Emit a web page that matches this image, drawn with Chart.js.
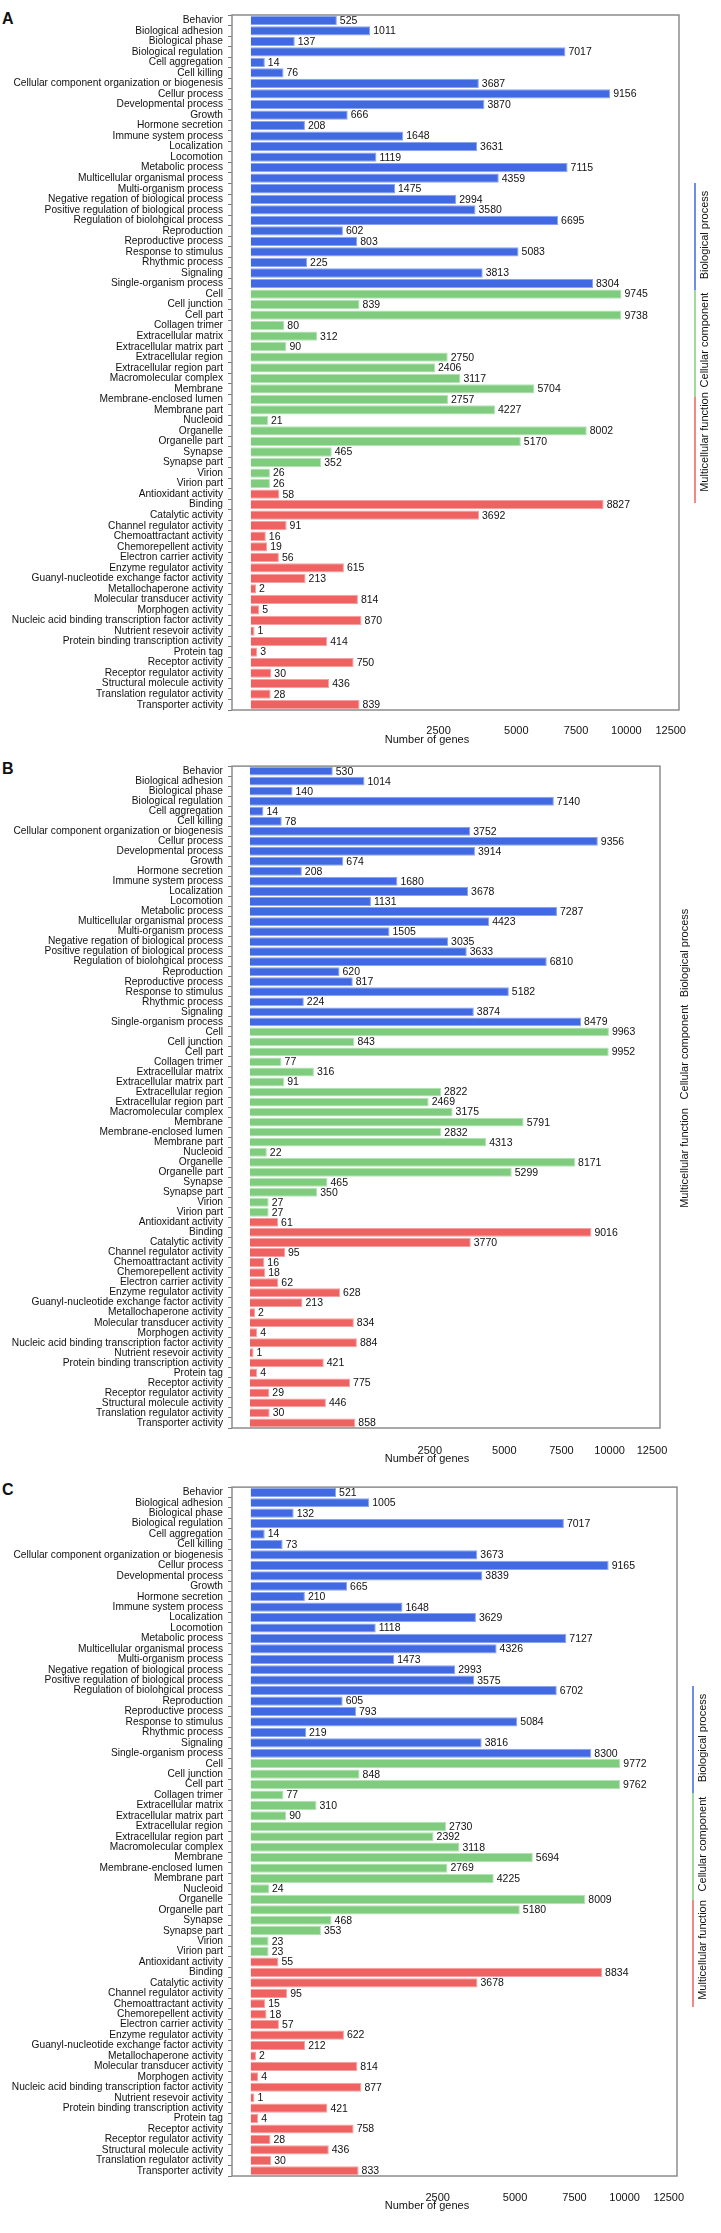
<!DOCTYPE html>
<html>
<head>
<meta charset="utf-8">
<script src="https://cdn.jsdelivr.net/npm/chart.js@4.4.0/dist/chart.umd.min.js"></script>
<style>
  body { margin: 0; background: #fff; }
  #page { position: relative; width: 721px; height: 2233px; overflow: hidden; }
  .panel { position: absolute; left: 0; }
  .letter { position: absolute; left: 2px; font: bold 16px "Liberation Sans", Arial, sans-serif; color: #111; }
</style>
</head>
<body>
<div id="page">
  <div class="letter" style="top:10px">A</div>
  <div class="letter" style="top:760px">B</div>
  <div class="letter" style="top:1481px">C</div>
  <canvas id="chartA" class="panel" style="top:0px" width="721" height="760"></canvas>
  <canvas id="chartB" class="panel" style="top:755px" width="721" height="730"></canvas>
  <canvas id="chartC" class="panel" style="top:1476px" width="721" height="757"></canvas>
</div>
<script>
const bpTerms = ['Behavior', 'Biological adhesion', 'Biological phase', 'Biological regulation', 'Cell aggregation',
  'Cell killing', 'Cellular component organization or biogenesis', 'Cellur process', 'Developmental process',
  'Growth', 'Hormone secretion', 'Immune system process', 'Localization', 'Locomotion', 'Metabolic process',
  'Multicellular organismal process', 'Multi-organism process', 'Negative regation of biological process',
  'Positive regulation of biological process', 'Regulation of biolohgical process', 'Reproduction',
  'Reproductive process', 'Response to stimulus', 'Rhythmic process', 'Signaling', 'Single-organism process']
const ccTerms = ['Cell', 'Cell junction', 'Cell part', 'Collagen trimer', 'Extracellular matrix',
  'Extracellular matrix part', 'Extracellular region', 'Extracellular region part', 'Macromolecular complex',
  'Membrane', 'Membrane-enclosed lumen', 'Membrane part', 'Nucleoid', 'Organelle', 'Organelle part',
  'Synapse', 'Synapse part', 'Virion', 'Virion part']
const mfTerms = ['Antioxidant activity', 'Binding', 'Catalytic activity', 'Channel regulator activity',
  'Chemoattractant activity', 'Chemorepellent activity', 'Electron carrier activity', 'Enzyme regulator activity',
  'Guanyl-nucleotide exchange factor activity', 'Metallochaperone activity', 'Molecular transducer activity',
  'Morphogen activity', 'Nucleic acid binding transcription factor activity', 'Nutrient resevoir activity',
  'Protein binding transcription activity', 'Protein tag', 'Receptor activity', 'Receptor regulator activity',
  'Structural molecule activity', 'Translation regulator activity', 'Transporter activity']
const groupNames = ['Biological process', 'Cellular component', 'Multicellular function']

// panel A
const aBP = [525, 1011, 137, 7017, 14, 76, 3687, 9156, 3870, 666, 208, 1648, 3631, 1119, 7115, 4359, 1475, 2994, 3580, 6695, 602, 803, 5083, 225, 3813, 8304]
const aCC = [9745, 839, 9738, 80, 312, 90, 2750, 2406, 3117, 5704, 2757, 4227, 21, 8002, 5170, 465, 352, 26, 26]
const aMF = [58, 8827, 3692, 91, 16, 19, 56, 615, 213, 2, 814, 5, 870, 1, 414, 3, 750, 30, 436, 28, 839]
// panel B
const bBP = [530, 1014, 140, 7140, 14, 78, 3752, 9356, 3914, 674, 208, 1680, 3678, 1131, 7287, 4423, 1505, 3035, 3633, 6810, 620, 817, 5182, 224, 3874, 8479]
const bCC = [9963, 843, 9952, 77, 316, 91, 2822, 2469, 3175, 5791, 2832, 4313, 22, 8171, 5299, 465, 350, 27, 27]
const bMF = [61, 9016, 3770, 95, 16, 18, 62, 628, 213, 2, 834, 4, 884, 1, 421, 4, 775, 29, 446, 30, 858]
// panel C
const cBP = [521, 1005, 132, 7017, 14, 73, 3673, 9165, 3839, 665, 210, 1648, 3629, 1118, 7127, 4326, 1473, 2993, 3575, 6702, 605, 793, 5084, 219, 3816, 8300]
const cCC = [9772, 848, 9762, 77, 310, 90, 2730, 2392, 3118, 5694, 2769, 4225, 24, 8009, 5180, 468, 353, 23, 23]
const cMF = [55, 8834, 3678, 95, 15, 18, 57, 622, 212, 2, 814, 4, 877, 1, 421, 4, 758, 28, 436, 30, 833]

const xTicks = [2500, 5000, 7500, 10000, 12500]
const xMin = -25
const xMax = 13000

const FONT = '"Liberation Sans", Arial, sans-serif'
const TEXT = '#111'
const groupColors = ['#4169e1', '#7fcc7f', '#ee6262']
const groupBorders = ['#8aa3ee', '#b3e2b3', '#f5a0a0']

// square-root axis
const sq = v => Math.sign(v) * Math.sqrt(Math.abs(v))
class SqrtScale extends Chart.LinearScale {
  getPixelForValue(value) {
    const a = sq(this.min), b = sq(this.max)
    return this.getPixelForDecimal((sq(value) - a) / (b - a))
  }
  getValueForPixel(pixel) {
    const a = sq(this.min), b = sq(this.max)
    const s = a + this.getDecimalForPixel(pixel) * (b - a)
    return Math.sign(s) * s * s
  }
}
SqrtScale.id = 'sqrt'
SqrtScale.defaults = Chart.LinearScale.defaults
Chart.register(SqrtScale)

const frame = {
  id: 'frame',
  afterDatasetsDraw(chart) {
    const { ctx, chartArea: c } = chart
    ctx.save()
    ctx.strokeStyle = '#8c8c8c'
    ctx.lineWidth = 1.5
    ctx.strokeRect(c.left, c.top, c.right - c.left, c.bottom - c.top)
    ctx.restore()
  }
}

const valueLabels = {
  id: 'valueLabels',
  afterDatasetsDraw(chart) {
    const { ctx } = chart
    const data = chart.data.datasets[0].data
    ctx.save()
    ctx.font = '10.5px ' + FONT
    ctx.fillStyle = TEXT
    ctx.textBaseline = 'middle'
    chart.getDatasetMeta(0).data.forEach((bar, i) => {
      ctx.fillText(String(data[i]), bar.x + 3, bar.y + 0.5)
    })
    ctx.restore()
  }
}

const sideLabels = {
  id: 'sideLabels',
  afterDraw(chart, args, opts) {
    const { ctx } = chart
    ctx.save()
    opts.items.forEach((it, i) => {
      if (opts.lineX) {
        ctx.strokeStyle = groupColors[i]
        ctx.lineWidth = 1.5
        ctx.beginPath()
        ctx.moveTo(opts.lineX, it[0])
        ctx.lineTo(opts.lineX, it[1])
        ctx.stroke()
      }
      ctx.save()
      ctx.translate(opts.textX, it[2])
      ctx.rotate(-Math.PI / 2)
      ctx.font = '11px ' + FONT
      ctx.fillStyle = TEXT
      ctx.textAlign = 'center'
      ctx.textBaseline = 'middle'
      ctx.fillText(groupNames[i], 0, 0)
      ctx.restore()
    })
    // axis title
    ctx.font = '11px ' + FONT
    ctx.fillStyle = TEXT
    ctx.textAlign = 'center'
    ctx.textBaseline = 'middle'
    ctx.fillText('Number of genes', 427, opts.titleY)
    ctx.restore()
  }
}

const categories = [...bpTerms, ...ccTerms, ...mfTerms]
const barColors = [...bpTerms.map(() => groupColors[0]), ...ccTerms.map(() => groupColors[1]), ...mfTerms.map(() => groupColors[2])]
const barBorders = [...bpTerms.map(() => groupBorders[0]), ...ccTerms.map(() => groupBorders[1]), ...mfTerms.map(() => groupBorders[2])]

function makeChart(id, values, g) {
  const canvas = document.getElementById(id)
  const H = canvas.height
  return new Chart(canvas.getContext('2d'), {
    type: 'bar',
    data: {
      labels: categories,
      datasets: [{
        data: values,
        backgroundColor: barColors,
        borderColor: barBorders,
        borderWidth: 1,
        borderSkipped: 'left',
        barPercentage: 0.88,
        categoryPercentage: 1,
      }],
    },
    options: {
      indexAxis: 'y',
      responsive: false,
      animation: false,
      devicePixelRatio: 1,
      layout: { padding: { top: g.top, right: 721 - g.right, bottom: 0, left: 0 } },
      scales: {
        x: {
          type: 'sqrt',
          min: xMin,
          max: xMax,
          afterBuildTicks: (s) => { s.ticks = xTicks.map(v => ({ value: v })) },
          afterFit: (s) => { s.height = H - g.bottom },
          grid: { display: false },
          border: { display: false },
          ticks: { padding: g.tickPad, color: TEXT, font: { family: FONT, size: 11 }, callback: (v) => String(v), maxRotation: 0, autoSkip: false },
        },
        y: {
          afterFit: (s) => { s.width = 232 },
          grid: { drawOnChartArea: false, drawTicks: true, tickLength: 4, color: '#777' },
          border: { display: false },
          ticks: { padding: 5, color: TEXT, font: { family: FONT, size: 10.2 }, autoSkip: false },
        },
      },
      plugins: {
        legend: { display: false },
        tooltip: { enabled: false },
        sideLabels: g.side,
      },
    },
    plugins: [frame, valueLabels, sideLabels],
  })
}

makeChart('chartA', [...aBP, ...aCC, ...aMF], {
  top: 15, bottom: 710, right: 679, tickPad: 6,
  side: { lineX: 695, textX: 705, titleY: 740, items: [[183, 290, 235], [290, 397, 340], [397, 503, 442]] },
})
makeChart('chartB', [...bBP, ...bCC, ...bMF], {
  top: 7, bottom: 673, right: 660, tickPad: 8,
  side: { lineX: 0, textX: 685, titleY: 704, items: [[0, 0, 198], [0, 0, 297], [0, 0, 403]] },
})
makeChart('chartC', [...cBP, ...cCC, ...cMF], {
  top: 5, bottom: 700, right: 677, tickPad: 7,
  side: { lineX: 693, textX: 703, titleY: 730, items: [[210, 317, 262], [317, 424, 368], [424, 531, 474]] },
})
</script>
</body>
</html>
